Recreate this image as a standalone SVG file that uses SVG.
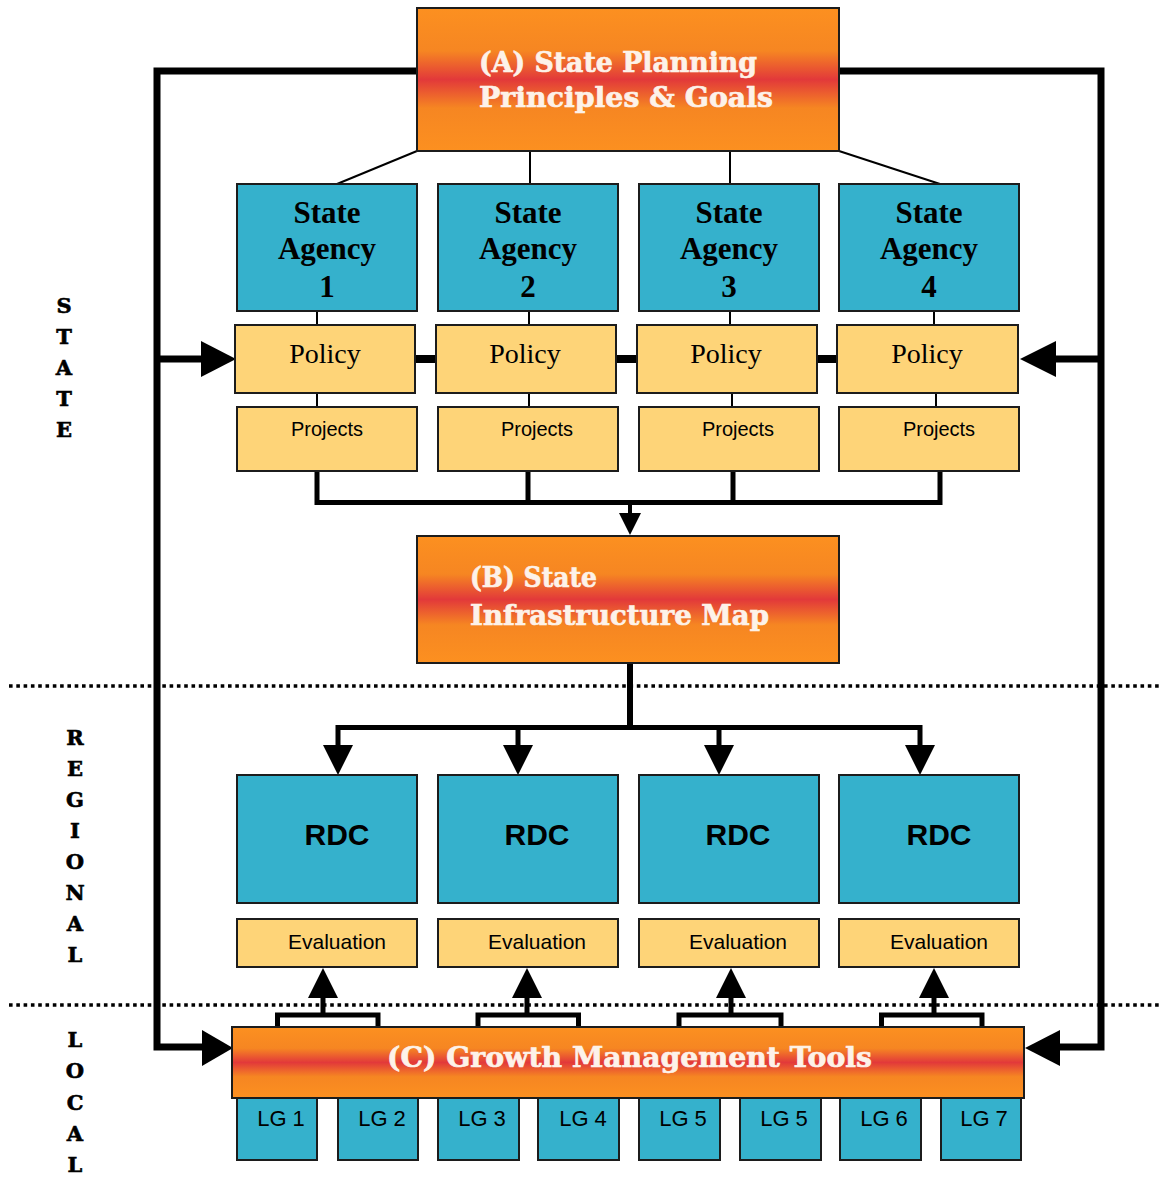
<svg xmlns="http://www.w3.org/2000/svg" width="1163" height="1178" viewBox="0 0 1163 1178">
  <defs>
    <linearGradient id="orangeBand" x1="0" y1="0" x2="0" y2="1">
      <stop offset="0" stop-color="#FC9020"/>
      <stop offset="0.3" stop-color="#F68622"/>
      <stop offset="0.5" stop-color="#E2393A"/>
      <stop offset="0.7" stop-color="#F68622"/>
      <stop offset="1" stop-color="#FC9020"/>
    </linearGradient>
  </defs>
  <style>
    .blue { fill: #35B1CC; stroke: #1c1c1c; stroke-width: 2; }
    .yellow { fill: #FED478; stroke: #1c1c1c; stroke-width: 2; }
    .orange { fill: url(#orangeBand); stroke: #1c1c1c; stroke-width: 2; }
    .slab { font-family: "DejaVu Serif", "Liberation Serif", serif; font-weight: bold; fill: #FDF2E9; stroke: #FDF2E9; stroke-width: 0.7; }
    .agency { font-family: "Liberation Serif", "Times New Roman", serif; font-weight: bold; font-size: 31px; fill: #000; text-anchor: middle; }
    .policy { font-family: "Liberation Serif", "Times New Roman", serif; font-size: 28px; fill: #000; text-anchor: middle; }
    .sans { font-family: "Liberation Sans", Arial, sans-serif; fill: #000; text-anchor: middle; }
    .side { font-family: "DejaVu Serif", "Liberation Serif", serif; font-weight: bold; font-size: 21px; fill: #000; stroke: #000; stroke-width: 0.6; text-anchor: middle; }
    .thin { stroke: #000; stroke-width: 2; fill: none; }
    .thick { stroke: #000; stroke-width: 7; fill: none; }
    .mid { stroke: #000; stroke-width: 5; fill: none; }
    .head { fill: #000; stroke: none; }
    .dots { stroke: #000; stroke-width: 3.5; stroke-dasharray: 3.6 3.7; fill: none; }
  </style>

  <!-- level dividers -->
  <g id="dividers">
    <line class="dots" x1="9" y1="686" x2="1160" y2="686"/>
    <line class="dots" x1="9" y1="1005" x2="1160" y2="1005"/>
  </g>

  <!-- level labels -->
  <g id="label-state">
    <text class="side" x="64" y="313">S</text>
    <text class="side" x="64" y="344">T</text>
    <text class="side" x="64" y="375">A</text>
    <text class="side" x="64" y="406">T</text>
    <text class="side" x="64" y="437">E</text>
  </g>
  <g id="label-regional">
    <text class="side" x="75" y="745">R</text>
    <text class="side" x="75" y="776">E</text>
    <text class="side" x="75" y="807">G</text>
    <text class="side" x="75" y="838">I</text>
    <text class="side" x="75" y="869">O</text>
    <text class="side" x="75" y="900">N</text>
    <text class="side" x="75" y="931">A</text>
    <text class="side" x="75" y="962">L</text>
  </g>
  <g id="label-local">
    <text class="side" x="75" y="1047">L</text>
    <text class="side" x="75" y="1078">O</text>
    <text class="side" x="75" y="1110">C</text>
    <text class="side" x="75" y="1141">A</text>
    <text class="side" x="75" y="1172">L</text>
  </g>

  <!-- connectors -->
  <g id="connectors">
    <!-- outer feedback loops -->
    <polyline class="thick" points="417,71 157,71 157,1047 204,1047"/>
    <line class="thick" x1="157" y1="359" x2="204" y2="359"/>
    <polygon class="head" points="201,341 236,359 201,377"/>
    <polygon class="head" points="202,1030 233,1048 202,1066"/>
    <polyline class="thick" points="839,71 1101,71 1101,1047 1058,1047"/>
    <line class="thick" x1="1101" y1="359" x2="1054" y2="359"/>
    <polygon class="head" points="1056,341 1020,359 1056,377"/>
    <polygon class="head" points="1060,1030 1025,1048 1060,1066"/>

    <!-- A to agencies -->
    <line class="thin" x1="417" y1="151" x2="337" y2="184"/>
    <line class="thin" x1="530" y1="151" x2="530" y2="184"/>
    <line class="thin" x1="730" y1="151" x2="730" y2="184"/>
    <line class="thin" x1="839" y1="151" x2="940" y2="184"/>

    <!-- agency to policy to projects -->
    <line class="thin" x1="317" y1="311" x2="317" y2="325"/>
    <line class="thin" x1="529" y1="311" x2="529" y2="325"/>
    <line class="thin" x1="730" y1="311" x2="730" y2="325"/>
    <line class="thin" x1="934" y1="311" x2="934" y2="325"/>
    <line class="thin" x1="317" y1="393" x2="317" y2="407"/>
    <line class="thin" x1="529" y1="393" x2="529" y2="407"/>
    <line class="thin" x1="732" y1="393" x2="732" y2="407"/>
    <line class="thin" x1="936" y1="393" x2="936" y2="407"/>

    <!-- policy links -->
    <line stroke="#000" stroke-width="8" x1="415" y1="359" x2="437" y2="359"/>
    <line stroke="#000" stroke-width="8" x1="616" y1="359" x2="638" y2="359"/>
    <line stroke="#000" stroke-width="8" x1="817" y1="359" x2="838" y2="359"/>

    <!-- projects bus to B -->
    <polyline class="mid" points="317,471 317,502.5 940,502.5 940,471"/>
    <line class="mid" x1="528" y1="471" x2="528" y2="502"/>
    <line class="mid" x1="733" y1="471" x2="733" y2="502"/>
    <line stroke="#000" stroke-width="4" x1="630" y1="502" x2="630" y2="516"/>
    <polygon class="head" points="619,513 641,513 630,535"/>

    <!-- B to RDCs -->
    <line stroke="#000" stroke-width="6" x1="630" y1="663" x2="630" y2="728"/>
    <polyline class="mid" points="338,750 338,727.5 920,727.5 920,750"/>
    <line class="mid" x1="518" y1="727" x2="518" y2="750"/>
    <line class="mid" x1="719" y1="727" x2="719" y2="750"/>
    <polygon class="head" points="323,745 353,745 338,775"/>
    <polygon class="head" points="503,745 533,745 518,775"/>
    <polygon class="head" points="704,745 734,745 719,775"/>
    <polygon class="head" points="905,745 935,745 920,775"/>

    <!-- C to evaluations -->
    <polyline class="mid" points="277.5,1027 277.5,1015 378,1015 378,1027"/>
    <line class="mid" x1="323" y1="1015" x2="323" y2="995"/>
    <polygon class="head" points="308,998 338,998 323,968"/>
    <polyline class="mid" points="478,1027 478,1015 578.5,1015 578.5,1027"/>
    <line class="mid" x1="527" y1="1015" x2="527" y2="995"/>
    <polygon class="head" points="512,998 542,998 527,968"/>
    <polyline class="mid" points="679,1027 679,1015 781,1015 781,1027"/>
    <line class="mid" x1="731" y1="1015" x2="731" y2="995"/>
    <polygon class="head" points="716,998 746,998 731,968"/>
    <polyline class="mid" points="881.5,1027 881.5,1015 982,1015 982,1027"/>
    <line class="mid" x1="934" y1="1015" x2="934" y2="995"/>
    <polygon class="head" points="919,998 949,998 934,968"/>
  </g>

  <!-- (A) -->
  <g id="node-a">
    <rect class="orange" x="417" y="8" width="422" height="143"/>
    <text class="slab" x="479" y="72" font-size="28" textLength="278" lengthAdjust="spacingAndGlyphs">(A) State Planning</text>
    <text class="slab" x="479" y="107" font-size="28" textLength="294" lengthAdjust="spacingAndGlyphs">Principles &amp; Goals</text>
  </g>

  <!-- state agencies -->
  <g id="agency-1">
    <rect class="blue" x="237" y="184" width="180" height="127"/>
    <text class="agency" x="327" y="223">State</text>
    <text class="agency" x="327" y="259">Agency</text>
    <text class="agency" x="327" y="297">1</text>
  </g>
  <g id="agency-2">
    <rect class="blue" x="438" y="184" width="180" height="127"/>
    <text class="agency" x="528" y="223">State</text>
    <text class="agency" x="528" y="259">Agency</text>
    <text class="agency" x="528" y="297">2</text>
  </g>
  <g id="agency-3">
    <rect class="blue" x="639" y="184" width="180" height="127"/>
    <text class="agency" x="729" y="223">State</text>
    <text class="agency" x="729" y="259">Agency</text>
    <text class="agency" x="729" y="297">3</text>
  </g>
  <g id="agency-4">
    <rect class="blue" x="839" y="184" width="180" height="127"/>
    <text class="agency" x="929" y="223">State</text>
    <text class="agency" x="929" y="259">Agency</text>
    <text class="agency" x="929" y="297">4</text>
  </g>

  <!-- policies -->
  <g id="policy-1">
    <rect class="yellow" x="235" y="325" width="180" height="68"/>
    <text class="policy" x="325" y="363">Policy</text>
  </g>
  <g id="policy-2">
    <rect class="yellow" x="436" y="325" width="180" height="68"/>
    <text class="policy" x="525" y="363">Policy</text>
  </g>
  <g id="policy-3">
    <rect class="yellow" x="637" y="325" width="180" height="68"/>
    <text class="policy" x="726" y="363">Policy</text>
  </g>
  <g id="policy-4">
    <rect class="yellow" x="837" y="325" width="181" height="68"/>
    <text class="policy" x="927" y="363">Policy</text>
  </g>

  <!-- projects -->
  <g id="projects-1">
    <rect class="yellow" x="237" y="407" width="180" height="64"/>
    <text class="sans" x="327" y="436" font-size="20">Projects</text>
  </g>
  <g id="projects-2">
    <rect class="yellow" x="438" y="407" width="180" height="64"/>
    <text class="sans" x="537" y="436" font-size="20">Projects</text>
  </g>
  <g id="projects-3">
    <rect class="yellow" x="639" y="407" width="180" height="64"/>
    <text class="sans" x="738" y="436" font-size="20">Projects</text>
  </g>
  <g id="projects-4">
    <rect class="yellow" x="839" y="407" width="180" height="64"/>
    <text class="sans" x="939" y="436" font-size="20">Projects</text>
  </g>

  <!-- (B) -->
  <g id="node-b">
    <rect class="orange" x="417" y="536" width="422" height="127"/>
    <text class="slab" x="470" y="587" font-size="28" textLength="127" lengthAdjust="spacingAndGlyphs">(B) State</text>
    <text class="slab" x="470" y="625" font-size="28" textLength="299" lengthAdjust="spacingAndGlyphs">Infrastructure Map</text>
  </g>

  <!-- regional development councils -->
  <g id="rdc-1">
    <rect class="blue" x="237" y="775" width="180" height="128"/>
    <text class="sans" x="337" y="845" font-size="30" font-weight="bold">RDC</text>
  </g>
  <g id="rdc-2">
    <rect class="blue" x="438" y="775" width="180" height="128"/>
    <text class="sans" x="537" y="845" font-size="30" font-weight="bold">RDC</text>
  </g>
  <g id="rdc-3">
    <rect class="blue" x="639" y="775" width="180" height="128"/>
    <text class="sans" x="738" y="845" font-size="30" font-weight="bold">RDC</text>
  </g>
  <g id="rdc-4">
    <rect class="blue" x="839" y="775" width="180" height="128"/>
    <text class="sans" x="939" y="845" font-size="30" font-weight="bold">RDC</text>
  </g>

  <!-- evaluations -->
  <g id="evaluation-1">
    <rect class="yellow" x="237" y="919" width="180" height="48"/>
    <text class="sans" x="337" y="949" font-size="21">Evaluation</text>
  </g>
  <g id="evaluation-2">
    <rect class="yellow" x="438" y="919" width="180" height="48"/>
    <text class="sans" x="537" y="949" font-size="21">Evaluation</text>
  </g>
  <g id="evaluation-3">
    <rect class="yellow" x="639" y="919" width="180" height="48"/>
    <text class="sans" x="738" y="949" font-size="21">Evaluation</text>
  </g>
  <g id="evaluation-4">
    <rect class="yellow" x="839" y="919" width="180" height="48"/>
    <text class="sans" x="939" y="949" font-size="21">Evaluation</text>
  </g>

  <!-- local governments -->
  <g id="lg-1">
    <rect class="blue" x="237" y="1098" width="80" height="62"/>
    <text class="sans" x="281" y="1126" font-size="22">LG 1</text>
  </g>
  <g id="lg-2">
    <rect class="blue" x="338" y="1098" width="80" height="62"/>
    <text class="sans" x="382" y="1126" font-size="22">LG 2</text>
  </g>
  <g id="lg-3">
    <rect class="blue" x="438" y="1098" width="81" height="62"/>
    <text class="sans" x="482" y="1126" font-size="22">LG 3</text>
  </g>
  <g id="lg-4">
    <rect class="blue" x="538" y="1098" width="81" height="62"/>
    <text class="sans" x="583" y="1126" font-size="22">LG 4</text>
  </g>
  <g id="lg-5a">
    <rect class="blue" x="639" y="1098" width="81" height="62"/>
    <text class="sans" x="683" y="1126" font-size="22">LG 5</text>
  </g>
  <g id="lg-5b">
    <rect class="blue" x="740" y="1098" width="81" height="62"/>
    <text class="sans" x="784" y="1126" font-size="22">LG 5</text>
  </g>
  <g id="lg-6">
    <rect class="blue" x="840" y="1098" width="81" height="62"/>
    <text class="sans" x="884" y="1126" font-size="22">LG 6</text>
  </g>
  <g id="lg-7">
    <rect class="blue" x="941" y="1098" width="80" height="62"/>
    <text class="sans" x="984" y="1126" font-size="22">LG 7</text>
  </g>

  <!-- (C) -->
  <g id="node-c">
    <rect class="orange" x="232" y="1027" width="792" height="71"/>
    <text class="slab" x="387" y="1067" font-size="28" textLength="485" lengthAdjust="spacingAndGlyphs">(C) Growth Management Tools</text>
  </g>
</svg>
